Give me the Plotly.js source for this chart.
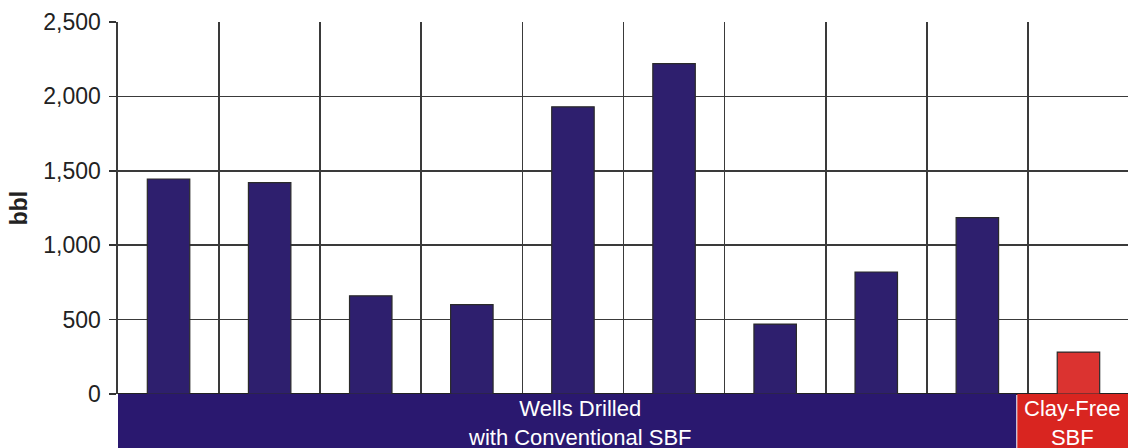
<!DOCTYPE html>
<html>
<head>
<meta charset="utf-8">
<script src="https://cdn.plot.ly/plotly-3.0.1.min.js"></script>
<style>
  html, body { margin: 0; padding: 0; background: #ffffff; }
  #chart { width: 1128px; height: 448px; }
</style>
</head>
<body>
<div id="chart"></div>
<script>
// Mud volume per well (bbl)
const wells = ['Well 1', 'Well 2', 'Well 3', 'Well 4', 'Well 5', 'Well 6', 'Well 7', 'Well 8', 'Well 9', 'Well 10'];
const volumes = [1445, 1420, 660, 600, 1930, 2220, 470, 820, 1185, 282];
const fluidType = ['conv', 'conv', 'conv', 'conv', 'conv', 'conv', 'conv', 'conv', 'conv', 'clay'];

// Group labels drawn in the band beneath the axis
const groupKeys = ['conv', 'clay'];
const groupLabels = ['Wells Drilled<br>with Conventional SBF', 'Clay-Free<br>SBF'];

const barColors = { conv: '#2e1f6e', clay: '#db3330' };
const bandColors = { conv: '#2a186f', clay: '#d92520' };
const fontFamily = 'Arial, "Liberation Sans", Helvetica, sans-serif';

const xRange = [-0.5, 9.49];
// band boundaries in category units
const bandEdges = { conv: [-0.51, 8.385], clay: [8.395, 9.6] };
const bandTextX = { conv: 4.07, clay: null };

const shapes = [];
const annotations = [];
groupKeys.forEach((k, i) => {
  const [x0, x1] = bandEdges[k];
  shapes.push({
    type: 'rect', xref: 'x', yref: 'paper', ysizemode: 'pixel', yanchor: 0,
    x0: x0, x1: x1, y0: 0, y1: -56,
    fillcolor: bandColors[k], line: { width: 0 }, layer: 'above'
  });
  annotations.push({
    xref: 'x', yref: 'paper',
    x: bandTextX[k] !== null ? bandTextX[k] : (x0 + Math.min(x1, xRange[1])) / 2,
    y: 0, yanchor: 'top', yshift: 0,
    text: groupLabels[i], showarrow: false,
    font: { family: fontFamily, size: 22, color: '#ffffff' },
    align: 'center'
  });
});

const trace = {
  type: 'bar',
  x: wells,
  y: volumes,
  width: 0.42,
  marker: {
    color: fluidType.map(t => barColors[t]),
    line: { color: '#2a2a2a', width: 1.2 }
  },
  hoverinfo: 'x+y'
};

const layout = {
  width: 1128,
  height: 448,
  margin: { l: 118, r: 0, t: 22, b: 54, pad: 0 },
  paper_bgcolor: '#ffffff',
  plot_bgcolor: '#ffffff',
  showlegend: false,
  font: { family: fontFamily, color: '#222222' },
  xaxis: {
    type: 'category',
    range: xRange,
    showticklabels: false,
    ticks: '',
    tickson: 'boundaries',
    showgrid: true,
    gridcolor: '#3a3a3a',
    gridwidth: 1.6,
    showline: false,
    zeroline: false,
    fixedrange: true
  },
  yaxis: {
    range: [0, 2500],
    dtick: 500,
    tickformat: ',d',
    ticks: 'outside',
    ticklen: 7,
    tickwidth: 1.6,
    tickcolor: '#333333',
    ticklabelstandoff: 4,
    tickfont: { family: fontFamily, size: 23, color: '#222222' },
    showgrid: true,
    gridcolor: '#3a3a3a',
    gridwidth: 1.6,
    showline: true,
    linecolor: '#3a3a3a',
    linewidth: 1.6,
    zeroline: true,
    zerolinecolor: '#222222',
    zerolinewidth: 2,
    title: {
      text: '<b>bbl</b>',
      font: { family: fontFamily, size: 23, color: '#222222' },
      standoff: 9
    },
    fixedrange: true
  },
  shapes: shapes,
  annotations: annotations
};

Plotly.newPlot('chart', [trace], layout, { displayModeBar: false, staticPlot: true });
</script>
</body>
</html>
